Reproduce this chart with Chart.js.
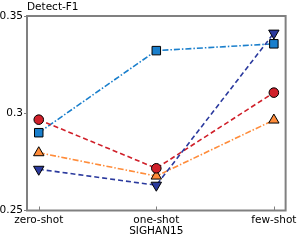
<!DOCTYPE html>
<html><head><meta charset="utf-8">
<script src="https://cdn.jsdelivr.net/npm/chart.js@4"></script>
<style>html,body{margin:0;padding:0;background:#fff}#wrap{width:300px;height:240px}</style>
</head><body><div id="wrap"><canvas id="c" width="300" height="240"></canvas></div>
<script>
const categories = ['zero-shot', 'one-shot', 'few-shot'];
const seriesRed = [0.2967, 0.2717, 0.3106];
const seriesBlue = [0.2900, 0.3322, 0.3357];
const seriesOrange = [0.2797, 0.2677, 0.2965];
const seriesNavy = [0.2712, 0.2630, 0.3412];
const yTicks = [0.25, 0.3, 0.35];
const yTickLabels = ['0.25', '0.3', '0.35'];
const yTitle = 'Detect-F1';
const xTitle = 'SIGHAN15';

const FONT = 'DejaVu Sans';
const FRAME = '#808080';
const FS = 10.5;

function pts(arr){ return arr.map((v,i)=>({x:i,y:v})); }

const framePlugin = {
  id:'frame',
  afterDraw(chart){
    const {ctx, chartArea:a, scales} = chart;
    ctx.save();
    ctx.strokeStyle = FRAME; ctx.lineWidth = 2;
    ctx.strokeRect(a.left, a.top, a.right-a.left, a.bottom-a.top);
    ctx.lineWidth = 1;
    categories.forEach((c,i)=>{
      const x = Math.round(scales.x.getPixelForValue(i))+0.5;
      ctx.beginPath(); ctx.moveTo(x, a.bottom); ctx.lineTo(x, a.bottom-4); ctx.stroke();
    });
    ctx.fillStyle = '#000';
    ctx.font = FS + 'px "' + FONT + '"';
    ctx.textBaseline = 'middle'; ctx.textAlign = 'left';
    ctx.fillText(yTitle, a.left, 7);
    ctx.restore();
  }
};

new Chart(document.getElementById('c'), {
  type:'line',
  data:{ datasets:[
    {data:pts(seriesNavy), borderColor:'#2b3a9e', backgroundColor:'#2b3a9e', borderDash:[5,3], borderWidth:1.6,
     pointStyle:'triangle', rotation:180, pointRadius:6, pointBorderColor:'#000', pointBorderWidth:1, order:0},
    {data:pts(seriesRed), borderColor:'#d0202a', backgroundColor:'#d0202a', borderDash:[5,3], borderWidth:1.6,
     pointStyle:'circle', pointRadius:4.8, pointBorderColor:'#000', pointBorderWidth:1, order:1},
    {data:pts(seriesOrange), borderColor:'#ff8c3a', backgroundColor:'#ff8c3a', borderDash:[6,2,1.5,2], borderWidth:1.6,
     pointStyle:'triangle', pointRadius:6, pointBorderColor:'#000', pointBorderWidth:1, order:2},
    {data:pts(seriesBlue), borderColor:'#1a7fcc', backgroundColor:'#1a7fcc', borderDash:[6,2,1.5,2], borderWidth:1.6,
     pointStyle:'rect', pointRadius:6, pointBorderColor:'#000', pointBorderWidth:1, order:3}
  ]},
  plugins:[framePlugin],
  options:{
    responsive:false, animation:false, devicePixelRatio:1,
    layout:{padding:{top:16,right:12,left:0,bottom:0}},
    plugins:{legend:{display:false}, tooltip:{enabled:false}},
    scales:{
      x:{type:'linear', min:-0.1, max:2.1,
        afterBuildTicks(s){ s.ticks = categories.map((c,i)=>({value:i})); },
        afterFit(s){ s.height = 29.5; },
        grid:{display:false, drawTicks:false},
        border:{display:false},
        ticks:{padding:3, color:'#000', font:{family:FONT,size:FS}, maxRotation:0, autoSkip:false,
          callback:(v)=>categories[v]},
        title:{display:true, text:xTitle, color:'#000', font:{family:FONT,size:FS}, padding:{top:0,bottom:2}}
      },
      y:{type:'linear', min:0.25, max:0.35,
        afterBuildTicks(s){ s.ticks = yTicks.map(v=>({value:v})); },
        afterFit(s){ s.width = 27; },
        grid:{drawOnChartArea:false, drawTicks:true, tickLength:3, color:FRAME},
        border:{display:false},
        ticks:{padding:1, color:'#000', font:{family:FONT,size:FS},
          callback:(v)=>yTickLabels[yTicks.indexOf(v)]}
      }
    }
  }
});
</script></body></html>
